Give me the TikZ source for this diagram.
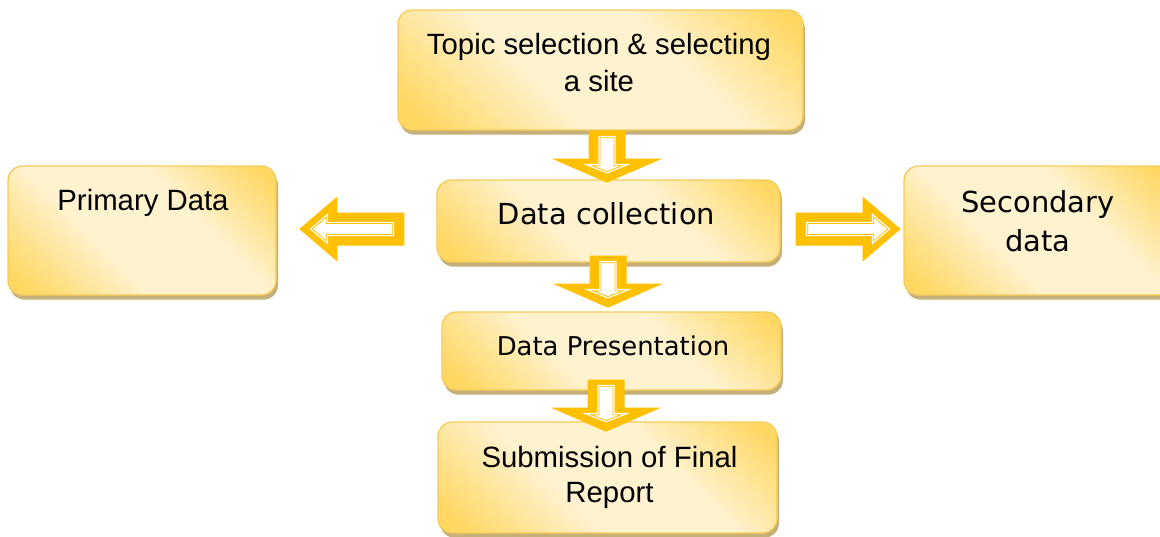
\documentclass[tikz,border=0pt]{standalone}
\usepackage{fontspec}
\usetikzlibrary{calc}
\newfontfamily\arialf{Liberation Sans}
\newfontfamily\verdf{DejaVu Sans}
\definecolor{gold}{HTML}{FFD864}
\definecolor{cream}{HTML}{FFF2CE}
\definecolor{edgec}{HTML}{F7CB58}
\definecolor{shadowc}{RGB}{196,176,120}
\definecolor{arrowc}{HTML}{FFC000}
\pgfdeclareverticalshading{boxshade}{100bp}{color(0bp)=(gold); color(19bp)=(gold); color(40bp)=(cream); color(62bp)=(cream); color(82bp)=(gold); color(100bp)=(gold)}
\newcommand\hshape{%
  \fill[arrowc] (0,-16.5) -- (67,-16.5) -- (67,-32.5) -- (105,0) -- (67,32.5) -- (67,16.5) -- (0,16.5) -- cycle;
  \draw[innerline] (12,-5.5) -- (78,-5.5) -- (78,-12) -- (92,0) -- (78,12) -- (78,5.5) -- (12,5.5) -- cycle;
}
\newcommand\vshape{%
  \fill[arrowc] (0,-18.5) -- (28,-18.5) -- (28,-55) -- (52,0) -- (28,55) -- (28,18.5) -- (0,18.5) -- cycle;
  \draw[innerline] (7,-7) -- (35,-7) -- (35,-15) -- (41,0) -- (35,15) -- (35,7) -- (7,7) -- cycle;
}
\begin{document}
\begin{tikzpicture}[x=0.75pt,y=-0.75pt,
  box/.style={rectangle, rounded corners=11pt, draw=edgec, line width=1pt, inner sep=0pt,
    shading=boxshade, shading angle=-45,
    preaction={fill=shadowc, transform canvas={xshift=1.5pt,yshift=-3.5pt}}},
  atxt/.style={font=\arialf\fontsize{22}{27.75}\selectfont, align=center, inner sep=0pt},
  vtxt/.style={font=\verdf\fontsize{21.7}{29.25}\selectfont, align=center, inner sep=0pt},
  innerline/.style={draw=white, fill=white, line width=1pt, double=arrowc, double distance=0.6pt, line join=miter}]
\useasboundingbox (0,0) rectangle (1160,536);
\clip (0,0) rectangle (1160,536);
\fill[white] (0,0) rectangle (1160,536);
% boxes
\node[box, minimum width=303.75pt, minimum height=90pt] (b1) at (600.5,70) {};
\node[box, minimum width=201pt, minimum height=96.75pt] (prim) at (142,230.5) {};
\node[box, minimum width=257.25pt, minimum height=61.5pt] (dc) at (608.5,221) {};
\node[box, minimum width=201pt, minimum height=96.75pt] (sec) at (1038,230.5) {};
\node[box, minimum width=254.25pt, minimum height=58.5pt] (dp) at (611.5,351) {};
\node[box, minimum width=254.25pt, minimum height=83.25pt] (sub) at (607.5,477.5) {};
% texts
\node[atxt] (t1) at ($(b1.center)+(-1.5,-7.5)$) {Topic selection \& selecting\\a site};
\node[atxt] (tp) at ($(prim.center)+(1,-28)$) {Primary Data};
\node[vtxt] (tdc) at ($(dc.center)+(-2,-7)$) {Data collection};
\node[vtxt] (ts) at ($(sec.center)+(0,-9.5)$) {Secondary\\data};
\node[vtxt, font=\verdf\fontsize{19.4}{24}\selectfont] (tdp) at ($(dp.center)+(1.5,-5)$) {Data Presentation};
\node[atxt, font=\arialf\fontsize{22}{26.7}\selectfont] (tsub) at ($(sub.center)+(2,0)$) {Submission of Final\\Report};
% arrows
\begin{scope}[shift={($(b1.south)+(6.5,0)$)}, rotate=-90] \vshape \end{scope}
\begin{scope}[shift={($(dc.south)+(-0.5,-7)$)}, rotate=-90] \vshape \end{scope}
\begin{scope}[shift={($(dp.south)+(-5.5,-11)$)}, rotate=-90] \vshape \end{scope}
\begin{scope}[shift={($(dc.west)+(-32,8)$)}, rotate=180] \hshape \end{scope}
\begin{scope}[shift={($(dc.east)+(15,8)$)}] \hshape \end{scope}
\end{tikzpicture}
\end{document}
